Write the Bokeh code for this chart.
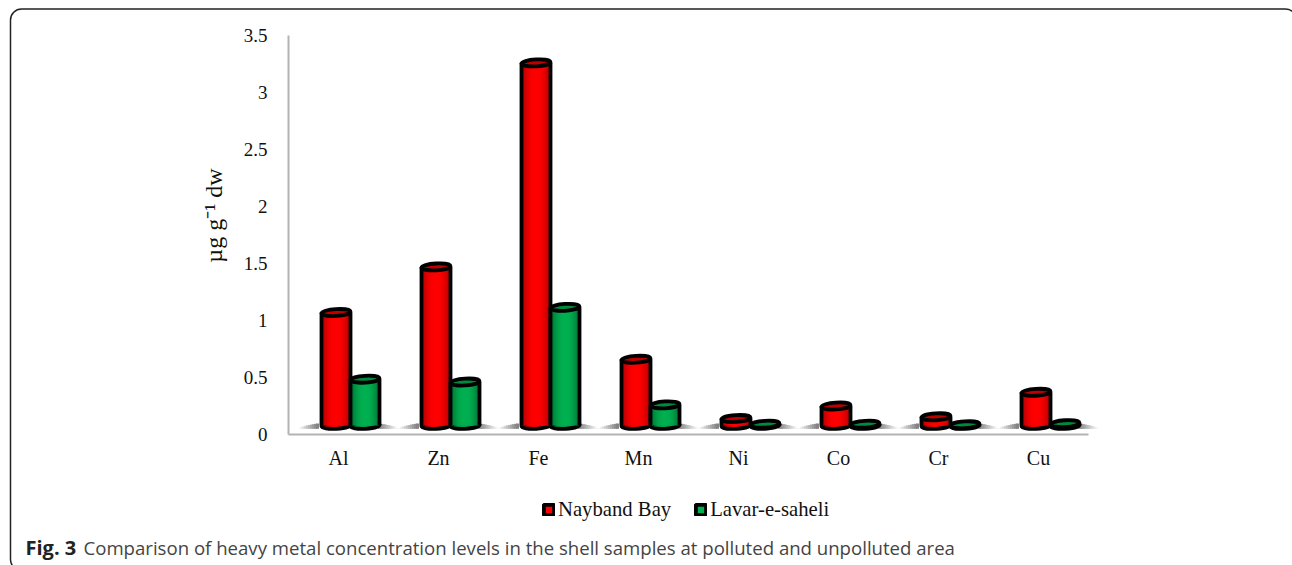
import math
from bokeh.plotting import figure
from bokeh.models import BoxAnnotation, Label, Legend, LegendItem, FixedTicker, Range1d
from bokeh.embed import file_html
from bokeh.resources import INLINE

categories = ["Al", "Zn", "Fe", "Mn", "Ni", "Co", "Cr", "Cu"]
nayband_bay = [1.07, 1.47, 3.26, 0.66, 0.14, 0.25, 0.155, 0.37]
lavar_e_saheli = [0.485, 0.46, 1.115, 0.26, 0.09, 0.09, 0.085, 0.095]
y_ticks = [0, 0.5, 1, 1.5, 2, 2.5, 3, 3.5]
y_tick_labels = ["0", "0.5", "1", "1.5", "2", "2.5", "3", "3.5"]
series_names = ["Nayband Bay", "Lavar-e-saheli"]

SERIF = "Liberation Serif"
FLOOR = 0.08
BAR_W = 0.29
ELL_H = 0.06
TILT = 0.06
N_STRIPS = 17
W, H = 1292, 565
PX_X, PX_Y = 100.0, 114.0  # pixels per data unit


def mix(a, b, t):
    return "#%02x%02x%02x" % tuple(round(a[i] + (b[i] - a[i]) * t) for i in range(3))


p = figure(width=W, height=H, output_backend="svg", toolbar_location=None,
           x_range=Range1d(-288 / PX_X, (W - 288) / PX_X),
           y_range=Range1d(-(H - 434) / PX_Y, 434 / PX_Y),
           min_border=0, background_fill_color="white", border_fill_color="white", outline_line_color=None)
p.grid.visible = False

# axes
p.xaxis.ticker = FixedTicker(ticks=[i + 0.5 for i in range(len(categories))])
p.xaxis.major_label_overrides = {i + 0.5: c for i, c in enumerate(categories)}
p.yaxis.ticker = FixedTicker(ticks=y_ticks)
p.yaxis.major_label_overrides = dict(zip(y_ticks, y_tick_labels))
p.xaxis.fixed_location = 0
p.yaxis.fixed_location = 0
p.xaxis.bounds = (0, 8)
p.yaxis.bounds = (0, 3.5)
for ax in (p.xaxis, p.yaxis):
    ax.axis_line_color = "#b3b3b3"
    ax.axis_line_width = 2
    ax.major_tick_line_color = None
    ax.minor_tick_line_color = None
    ax.major_label_text_font = SERIF
    ax.major_label_text_color = "#111111"
p.xaxis.major_label_text_font_size = "20px"
p.yaxis.major_label_text_font_size = "19px"
p.yaxis.major_label_standoff = 15
p.xaxis.major_label_standoff = 6

# floor shadow
sh_l, sh_r, sh_b, sh_t, sh_c = [], [], [], [], []
FADE = 0.2
for i in range(len(categories)):
    for side in (0, 1):
        for k in range(10):
            f = (k + 0.5) / 10
            if side == 0:
                x0 = i + 0.1 + FADE * k / 10
                g = f
            else:
                x0 = i + 0.9 + FADE * k / 10
                g = 1 - f
            sh_l.append(x0 - 0.006)
            sh_r.append(x0 + FADE / 10 + 0.006)
            sh_b.append(0.05)
            sh_t.append(0.05 + 0.048 * g ** 0.6)
            sh_c.append(mix((255, 255, 255), (125, 125, 125), g))
p.quad(left=sh_l, right=sh_r, bottom=sh_b, top=sh_t, fill_color=sh_c, line_color=None)


def cylinders(values, offset, main, edge, cap):
    xs = [i + offset for i in range(len(values))]
    p.ellipse(xs, [FLOOR] * len(xs), width=BAR_W, height=ELL_H, angle=TILT,
              fill_color=mix(main, edge, 0.2), line_color="black", line_width=3.8)
    l, r, b, t, c = [], [], [], [], []
    for x, v in zip(xs, values):
        for k in range(N_STRIPS):
            f = abs((k + 0.5) / N_STRIPS - 0.5) * 2
            l.append(x - BAR_W / 2 + BAR_W * k / N_STRIPS)
            r.append(min(x + BAR_W / 2, x - BAR_W / 2 + BAR_W * (k + 1) / N_STRIPS + 0.012))
            b.append(FLOOR)
            t.append(v)
            c.append(mix(main, edge, f ** 2.2))
    p.quad(left=l, right=r, bottom=b, top=t, fill_color=c, line_color=None)
    p.segment([x - BAR_W / 2 for x in xs] + [x + BAR_W / 2 for x in xs], [FLOOR] * 2 * len(xs),
              [x - BAR_W / 2 for x in xs] + [x + BAR_W / 2 for x in xs], list(values) * 2,
              line_color="black", line_width=3.8)
    p.ellipse(xs, values, width=BAR_W, height=ELL_H, angle=TILT,
              fill_color=cap, line_color="black", line_width=3.8)


RED = (255, 0, 0)
GREEN = (0, 176, 80)
cylinders(nayband_bay, 0.475, RED, (165, 0, 0), "#c00000")
cylinders(lavar_e_saheli, 0.765, GREEN, (0, 105, 48), "#008a3e")

# legend
nan = float("nan")
k1 = p.quad(left=[nan], right=[nan], bottom=[nan], top=[nan], fill_color="#ff0000",
            line_color="black", line_width=4)
k2 = p.quad(left=[nan], right=[nan], bottom=[nan], top=[nan], fill_color="#00b050",
            line_color="black", line_width=4)
legend = Legend(items=[LegendItem(label=series_names[0], renderers=[k1]),
                       LegendItem(label=series_names[1], renderers=[k2])],
                orientation="horizontal", location=(542, 44), padding=0, margin=0, spacing=23,
                glyph_width=13, glyph_height=13, label_standoff=3,
                label_text_font=SERIF, label_text_font_size="20.7px", label_text_color="#111111",
                background_fill_alpha=0, border_line_color=None)
p.add_layout(legend, "center")

# y title
p.add_layout(Label(x=213, y=215, x_units="canvas", y_units="canvas", text="µg g⁻¹ dw", angle=math.pi / 2,
                   text_font=SERIF, text_font_size="24px", text_align="center", text_baseline="middle",
                   text_color="#111111"))

# caption
p.add_layout(Label(x=25, y=547, x_units="canvas", y_units="canvas", text="Fig. 3",
                   text_font="Open Sans", text_font_size="20px", text_font_style="bold",
                   text_baseline="middle", text_color="#222222"))
p.add_layout(Label(x=83, y=547, x_units="canvas", y_units="canvas",
                   text="Comparison of heavy metal concentration levels in the shell samples at polluted and unpolluted area",
                   text_font="Open Sans", text_font_size="18.6px", text_baseline="middle", text_color="#444444"))

# rounded panel border
p.add_layout(BoxAnnotation(left=10, right=1296, top=8.5, bottom=570,
                           left_units="canvas", right_units="canvas", top_units="canvas", bottom_units="canvas",
                           fill_alpha=0, line_color="#222222", line_width=1.5, line_alpha=1, border_radius=11))

open("out.html", "w").write(file_html(p, INLINE))
